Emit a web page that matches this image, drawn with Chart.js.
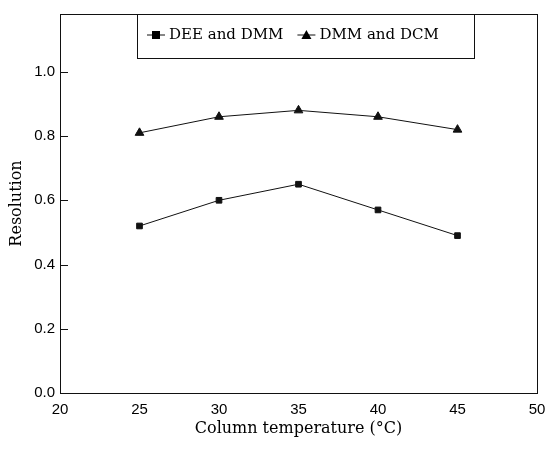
<!DOCTYPE html>
<html>
<head>
<meta charset="utf-8">
<script src="https://cdn.jsdelivr.net/npm/chart.js@4.4.1/dist/chart.umd.min.js"></script>
<style>
  html, body { margin: 0; padding: 0; background: #fff; }
  #wrap { width: 559px; height: 452px; }
</style>
</head>
<body>
<div id="wrap"><canvas id="graph"></canvas></div>
<script>
// Résolution en fonction de la température de colonne
const temperatures = [25, 30, 35, 40, 45];
const deeDmm = [0.52, 0.60, 0.65, 0.57, 0.49];
const dmmDcm = [0.81, 0.86, 0.88, 0.86, 0.82];
const seriesLabels = ['DEE and DMM', 'DMM and DCM'];
const yTicks = [0.0, 0.2, 0.4, 0.6, 0.8, 1.0];

const serif = "'DejaVu Serif', serif";
const sans = "'Liberation Sans', Arial, sans-serif";

// Cadre, graduations internes et légende encadrée
const framePlugin = {
  id: 'frame',
  afterDraw(chart) {
    const ctx = chart.ctx;
    const a = chart.chartArea;
    const yScale = chart.scales.y;
    ctx.save();
    ctx.strokeStyle = '#111';
    ctx.lineWidth = 1;
    ctx.strokeRect(a.left + 0.5, a.top + 0.5, a.right - a.left, a.bottom - a.top);

    // petites graduations vers l'intérieur
    yScale.ticks.forEach(t => {
      const y = Math.round(yScale.getPixelForValue(t.value)) + 0.5;
      ctx.beginPath();
      ctx.moveTo(a.left, y);
      ctx.lineTo(a.left + 8, y);
      ctx.stroke();
    });

    // légende
    const bx = a.left + 77, by = a.top, bw = 337, bh = 44;
    ctx.fillStyle = '#fff';
    ctx.fillRect(bx, by, bw, bh);
    ctx.strokeRect(bx + 0.5, by + 0.5, bw, bh);
    ctx.font = '15px ' + serif;
    ctx.fillStyle = '#000';
    ctx.textBaseline = 'middle';
    const cy = by + 21;
    let x = bx + 10;
    chart.data.datasets.forEach((ds, i) => {
      ctx.beginPath();
      ctx.moveTo(x, cy);
      ctx.lineTo(x + 18, cy);
      ctx.stroke();
      const mx = x + 9;
      ctx.beginPath();
      if (ds.pointStyle === 'triangle') {
        ctx.moveTo(mx, cy - 5);
        ctx.lineTo(mx + 5, cy + 4);
        ctx.lineTo(mx - 5, cy + 4);
        ctx.closePath();
      } else {
        ctx.rect(mx - 4, cy - 4, 8, 8);
      }
      ctx.fill();
      ctx.fillText(ds.label, x + 22, cy);
      x += 22 + ctx.measureText(ds.label).width + 14;
    });
    ctx.restore();
  }
};

new Chart(document.getElementById('graph'), {
  type: 'line',
  data: {
    datasets: [
      {
        label: seriesLabels[0],
        data: temperatures.map((t, i) => ({ x: t, y: deeDmm[i] })),
        borderColor: '#111',
        backgroundColor: '#111',
        borderWidth: 1,
        pointStyle: 'rect',
        pointRadius: 4,
        pointHoverRadius: 4,
        tension: 0
      },
      {
        label: seriesLabels[1],
        data: temperatures.map((t, i) => ({ x: t, y: dmmDcm[i] })),
        borderColor: '#111',
        backgroundColor: '#111',
        borderWidth: 1,
        pointStyle: 'triangle',
        pointRadius: 5,
        pointHoverRadius: 5,
        tension: 0
      }
    ]
  },
  options: {
    responsive: true,
    maintainAspectRatio: false,
    animation: false,
    layout: { padding: { top: 13, right: 22, left: 0, bottom: 0 } },
    plugins: {
      legend: { display: false },
      tooltip: { enabled: false }
    },
    scales: {
      x: {
        type: 'linear',
        min: 20,
        max: 50,
        grid: { display: false, drawTicks: false },
        border: { display: false },
        ticks: {
          stepSize: 5,
          padding: 8,
          color: '#000',
          font: { family: sans, size: 15 }
        },
        title: {
          display: true,
          text: 'Column temperature (°C)',
          color: '#000',
          font: { family: serif, size: 16 },
          padding: { top: 4, bottom: 14 }
        },
        afterFit(scale) { scale.height = 59; }
      },
      y: {
        min: 0,
        max: 1.18,
        grid: { display: false, drawTicks: false },
        border: { display: false },
        afterBuildTicks(scale) {
          scale.ticks = yTicks.map(v => ({ value: v }));
        },
        ticks: {
          padding: 5,
          color: '#000',
          font: { family: sans, size: 15 },
          callback: v => v.toFixed(1)
        },
        title: {
          display: true,
          text: 'Resolution',
          color: '#000',
          font: { family: serif, size: 16 },
          padding: { top: 7, bottom: 2 }
        },
        afterFit(scale) { scale.width = 60; }
      }
    }
  },
  plugins: [framePlugin]
});
</script>
</body>
</html>
